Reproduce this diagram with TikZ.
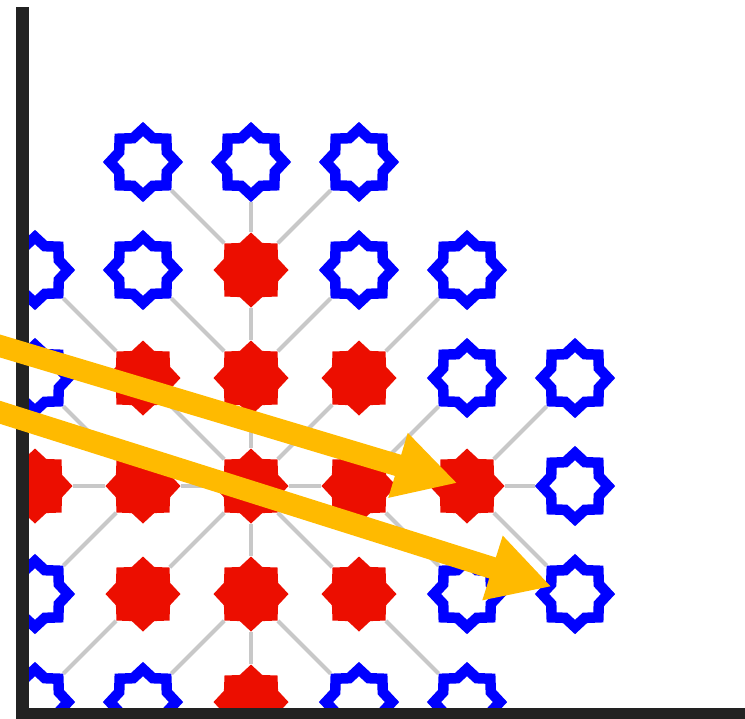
\documentclass[tikz,border=0pt]{standalone}
\usepackage{tikz}
\usetikzlibrary{arrows.meta,shapes.geometric}
\definecolor{closedred}{RGB}{236,14,0}
\definecolor{openblue}{RGB}{0,0,255}
\definecolor{hiliteorange}{RGB}{255,186,0}
\definecolor{axisgrey}{RGB}{34,34,34}
\definecolor{linkgrey}{RGB}{200,200,200}
\tikzset{
  cellstar/.style={star,star points=8,star point ratio=1.28,inner sep=0pt},
  visited/.style={cellstar,fill=closedred,minimum size=1.5cm},
  frontier/.style={cellstar,draw=openblue,fill=white,line width=.21cm,
                   minimum size=1.32cm},
  parentlink/.style={draw=linkgrey,line width=.08cm},
  pointer/.style={-{Triangle[length=1.24cm,width=1.26cm]},draw=hiliteorange,
                  line width=.44cm},
  axisbar/.style={fill=axisgrey},
}

\begin{document}
\begin{tikzpicture}[x=2.16cm,y=2.16cm]
  \path[use as bounding box] (-0.324,-5.148) rectangle (6.574,1.5);
  \clip (-0.324,-5.148) rectangle (6.574,1.5);
  % search grid, cut by the axes
  \begin{scope}
    \clip (-0.056,-5.056) rectangle (6.6,1.6);
    \foreach \c/\r in {2/1,1/2,2/2,3/2,0/3,1/3,2/3,3/3,4/3,1/4,2/4,3/4,2/5}
      \node[visited] (n-\c-\r) at (\c,-\r) {};
    \foreach \c/\r in {1/0,2/0,3/0,0/1,1/1,3/1,4/1,0/2,4/2,5/2,5/3,0/4,4/4,5/4,
        0/5,1/5,3/5,4/5}
      \node[frontier] (n-\c-\r) at (\c,-\r) {};
    \foreach \a/\b in {2-1/2-2,1-2/2-3,2-2/2-3,3-2/2-3,0-3/1-3,1-3/2-3,3-3/2-3,
        4-3/3-3,1-4/2-3,2-4/2-3,3-4/2-3,2-5/2-4,1-0/2-1,2-0/2-1,3-0/2-1,
        0-1/1-2,1-1/2-2,3-1/2-2,4-1/3-2,0-2/1-3,4-2/3-3,5-2/4-3,5-3/4-3,
        0-4/1-3,4-4/3-3,5-4/4-3,0-5/1-4,1-5/2-4,3-5/2-4,4-5/3-4}
      \draw[parentlink] (n-\a) -- (n-\b);
  \end{scope}
  \fill[axisbar] (-0.176,-5.2) rectangle (-0.056,1.435);
  \fill[axisbar] (-0.176,-5.2) rectangle (6.6,-5.056);
  \coordinate (src1) at (-0.509,-1.648);
  \coordinate (src2) at (-0.509,-2.259);
  \draw[pointer,shorten >=.2cm] (src1) -- (n-4-3.center);
  \draw[pointer,shorten >=.49cm] (src2) -- (n-5-4.center);
\end{tikzpicture}
\end{document}
